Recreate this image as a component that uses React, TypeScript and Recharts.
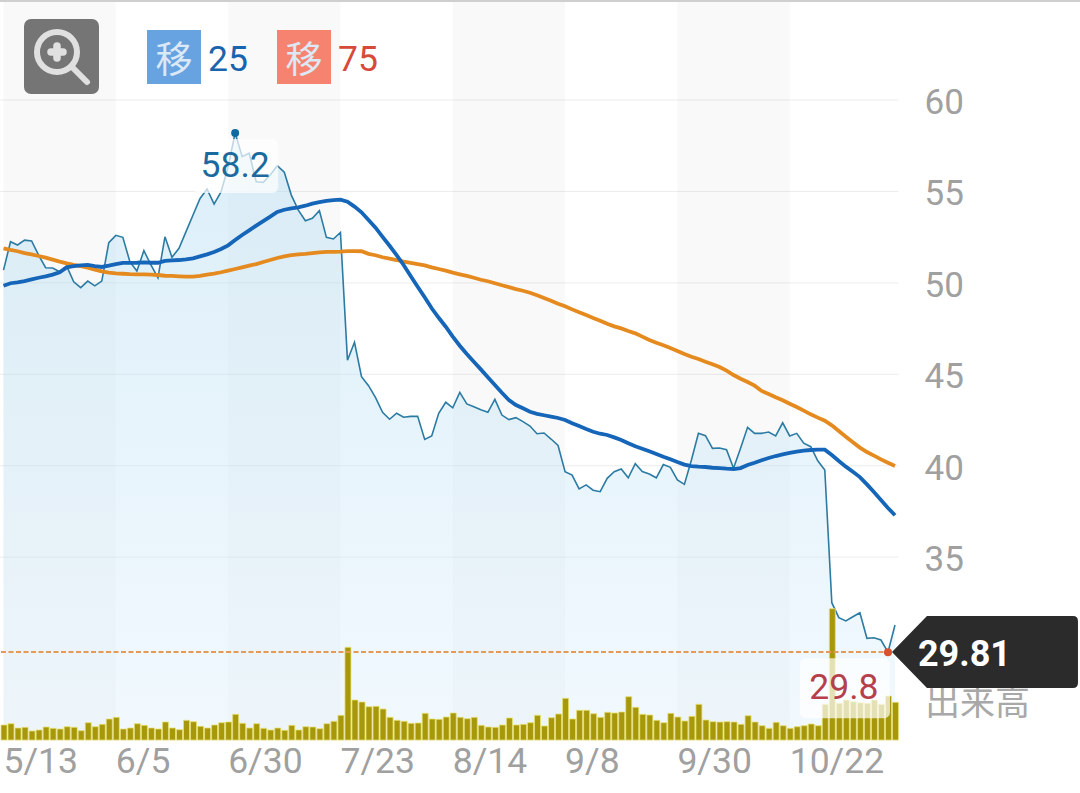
import {
  Area,
  Bar,
  CartesianGrid,
  ComposedChart,
  Line,
  ReferenceArea,
  ReferenceDot,
  ReferenceLine,
  XAxis,
  YAxis,
} from 'recharts';

const FONT = 'Roboto, "Noto Sans CJK JP", sans-serif';

// daily close
const close = [
  50.7, 52.25, 52.07, 52.34, 52.29, 51.52, 50.83, 50.81, 50.61, 50.92, 50.06, 49.74, 50.1, 49.84, 50.1, 52.2,
  52.6, 52.49, 51.16, 50.65, 51.76, 50.98, 50.28, 52.52, 51.4, 51.89, 52.8, 53.71, 54.62, 55.13, 54.31, 54.99,
  56.35, 58.2, 56.9, 57.09, 55.53, 55.5, 55.9, 56.41, 56.05, 54.8, 53.98, 53.4, 53.53, 53.95, 52.49, 52.4,
  52.76, 45.77, 46.75, 44.87, 44.38, 43.72, 42.92, 42.54, 42.87, 42.65, 42.7, 42.7, 41.44, 41.63, 42.87, 43.47,
  43.17, 44.01, 43.38, 43.23, 43.06, 42.92, 43.63, 42.77, 42.52, 42.63, 42.41, 42.17, 41.75, 41.79, 41.46, 41.11,
  39.67, 39.49, 38.73, 38.95, 38.66, 38.58, 39.31, 39.67, 39.82, 39.34, 40.11, 39.68, 39.55, 39.34, 40.06, 39.91,
  39.22, 38.98, 40.31, 41.77, 41.64, 40.95, 40.97, 40.88, 39.86, 40.95, 42.1, 41.77, 41.77, 41.84, 41.63, 42.35,
  41.63, 41.77, 41.23, 41.04, 40.27, 39.77, 32.51, 31.69, 31.51, 31.74, 31.96, 30.56, 30.59, 30.47, 29.8, 31.29,
];

const ma25 = [
  49.84, 49.98, 50.03, 50.1, 50.19, 50.28, 50.36, 50.45, 50.58, 50.85, 50.92, 50.96, 50.98, 50.92, 50.87, 50.94,
  51.03, 51.09, 51.09, 51.1, 51.12, 51.1, 51.1, 51.2, 51.23, 51.25, 51.29, 51.34, 51.45, 51.56, 51.69, 51.85,
  52.05, 52.34, 52.62, 52.87, 53.13, 53.38, 53.62, 53.88, 54.0, 54.08, 54.13, 54.22, 54.33, 54.41, 54.48, 54.53,
  54.55, 54.44, 54.17, 53.86, 53.44, 53.02, 52.52, 52.03, 51.52, 50.98, 50.38, 49.79, 49.21, 48.61, 48.09, 47.6,
  47.06, 46.56, 46.11, 45.69, 45.27, 44.84, 44.41, 43.99, 43.59, 43.32, 43.14, 42.95, 42.84, 42.76, 42.68, 42.61,
  42.5, 42.32, 42.17, 42.01, 41.86, 41.75, 41.68, 41.55, 41.41, 41.23, 41.06, 40.93, 40.79, 40.64, 40.49, 40.35,
  40.2, 40.06, 39.98, 39.95, 39.93, 39.89, 39.87, 39.84, 39.82, 39.87, 40.04, 40.16, 40.3, 40.42, 40.53, 40.62,
  40.7, 40.77, 40.82, 40.86, 40.88, 40.88, 40.59, 40.26, 39.95, 39.67, 39.38, 38.98, 38.56, 38.13, 37.69, 37.29,
];

const ma75 = [
  51.89, 51.8, 51.73, 51.63, 51.56, 51.47, 51.38, 51.27, 51.16, 51.07, 50.99, 50.92, 50.83, 50.72, 50.63, 50.56,
  50.52, 50.5, 50.48, 50.47, 50.47, 50.45, 50.43, 50.39, 50.38, 50.36, 50.34, 50.34, 50.38, 50.45, 50.5, 50.58,
  50.67, 50.76, 50.85, 50.94, 51.03, 51.14, 51.25, 51.36, 51.45, 51.52, 51.56, 51.59, 51.63, 51.67, 51.69, 51.7,
  51.71, 51.74, 51.74, 51.73, 51.59, 51.51, 51.4, 51.32, 51.25, 51.16, 51.09, 51.03, 50.96, 50.85, 50.76, 50.67,
  50.56, 50.47, 50.38, 50.28, 50.17, 50.09, 49.98, 49.87, 49.77, 49.66, 49.57, 49.46, 49.32, 49.17, 49.02, 48.86,
  48.72, 48.55, 48.39, 48.24, 48.08, 47.93, 47.77, 47.62, 47.51, 47.37, 47.24, 47.06, 46.88, 46.73, 46.59, 46.44,
  46.27, 46.11, 45.96, 45.84, 45.69, 45.55, 45.4, 45.2, 44.96, 44.76, 44.58, 44.38, 44.09, 43.92, 43.74, 43.58,
  43.39, 43.21, 43.01, 42.81, 42.63, 42.46, 42.21, 41.9, 41.59, 41.28, 40.99, 40.75, 40.55, 40.35, 40.16, 39.98,
];

// volume, relative units
const volume = [
  15, 16.3, 12, 12.7, 9, 10, 13, 11.7, 11, 13.3, 12.7, 9.3, 17.3, 13.3, 15.7, 21,
  22.7, 11, 12, 16.3, 14.7, 12, 11, 18, 12, 10.3, 19.7, 18.3, 13.7, 12, 15, 17.3,
  18, 25.7, 16.7, 12, 16.3, 11.7, 10, 12, 9.7, 14.7, 10, 13.3, 13, 11.3, 16.3, 18.7,
  24.7, 92.7, 40, 38, 33.3, 33.7, 31, 22.7, 19.7, 18.7, 16.7, 17, 26.7, 21, 20.7, 23,
  27, 22.7, 21.3, 22.7, 14.7, 13, 12.7, 15, 22, 15, 15.7, 17.3, 24.7, 14, 22.3, 26,
  41.7, 21, 29.7, 29.7, 26.3, 22.7, 27.7, 27, 28, 43.3, 32.7, 25.7, 25, 19.7, 17.3, 26.7,
  23, 19, 23.7, 35.7, 20, 18.3, 18, 18.3, 18, 15.7, 24.3, 18, 14.3, 11.7, 17.7, 14.3,
  11.7, 13.3, 14.3, 16, 14.3, 35.7, 131.3, 36.7, 40, 38.3, 37.3, 36.7, 40, 35.7, 44, 37.7,
];

const dateLabels = ['5/13', '6/5', '6/30', '7/23', '8/14', '9/8', '9/30', '10/22'];
const dateTicks = [0, 16, 32, 48, 64, 80, 96, 112];
const priceTicks = [35, 40, 45, 50, 55, 60];
const shadedBands = [[0, 15], [32, 47], [64, 79], [96, 111]];

const lastPrice = 29.81;
const highIdx = 33;
const lowIdx = 126;

const data = close.map((c, i) => ({ i, close: c, ma25: ma25[i], ma75: ma75[i], volume: volume[i] }));

function DateTick({ x, y, payload }: any) {
  return (
    <text x={x} y={y + 25} textAnchor="start" fontSize={35.5} fontFamily={FONT} fill="#a0a0a0">
      {dateLabels[dateTicks.indexOf(payload.value)]}
    </text>
  );
}

// the bands run from one point's centre to the next band's first centre
function Band({ x, y, width, height }: any) {
  return <rect x={x + 3.5} y={y + 2} width={width} height={height - 2} fill="#000" fillOpacity={0.024} />;
}

function HighMark({ cx, cy }: any) {
  return (
    <g>
      <circle cx={cx} cy={cy} r={4} fill="#0f6a9f" />
      <rect x={cx - 42} y={cy + 6} width={85} height={54} rx={6} fill="#fff" fillOpacity={0.7} />
      <text x={cx} y={cy + 44} textAnchor="middle" fontSize={35.5} fontFamily={FONT} fill="#1a6a9e">
        58.2
      </text>
    </g>
  );
}

function LowMark({ cx, cy }: any) {
  return (
    <g>
      <rect x={cx - 88} y={cy + 6} width={90} height={60} rx={6} fill="#fff" fillOpacity={0.7} />
      <text x={cx - 44} y={cy + 47} textAnchor="middle" fontSize={35.5} fontFamily={FONT} fill="#b5404a">
        29.8
      </text>
      <circle cx={cx} cy={cy} r={4} fill="#d9502e" />
    </g>
  );
}

function PriceTag({ cx, cy }: any) {
  const x = cx + 4;
  return (
    <g>
      <path
        d={`M${x} ${cy} L${x + 35} ${cy - 36} H${x + 181} q5 0 5 5 V${cy + 31} q0 5 -5 5 H${x + 35} Z`}
        fill="#2b2b2b"
      />
      <text x={x + 26} y={cy + 14} fontSize={36} fontWeight={700} fontFamily={FONT} fill="#fff">
        {lastPrice}
      </text>
    </g>
  );
}

function MaKey({ left, box, color, label }: { left: number; box: string; color: string; label: string }) {
  return (
    <>
      <div
        style={{
          position: 'absolute', left, top: 30, width: 54, height: 54, background: box, color: '#dce8f5',
          fontSize: 37, lineHeight: '54px', textAlign: 'center', fontFamily: '"Noto Sans CJK JP"',
        }}
      >
        移
      </div>
      <div
        style={{
          position: 'absolute', left: left + 61, top: 39, color, fontSize: 35.5, lineHeight: '40px', fontFamily: FONT,
        }}
      >
        {label}
      </div>
    </>
  );
}

function ZoomIcon() {
  return (
    <svg width={75} height={75} style={{ position: 'absolute', left: 24, top: 19 }}>
      <rect width={75} height={75} rx={7} fill="#757575" />
      <circle cx={33} cy={33} r={20} fill="none" stroke="#e0e0e0" strokeWidth={6} />
      <path d="M33 27V39M27 33H39" stroke="#e0e0e0" strokeWidth={7.5} strokeLinecap="round" />
      <path d="M48 48L63 63" stroke="#e0e0e0" strokeWidth={6} strokeLinecap="round" />
    </svg>
  );
}

export default function App() {
  return (
    <div style={{ position: 'fixed', left: 0, top: 0, width: 1080, height: 793, background: '#fff', overflow: 'hidden' }}>
      <div
        style={{
          position: 'absolute', left: 925, top: 678, color: '#a8a8a8', fontSize: 35, lineHeight: '44px',
          fontFamily: '"Noto Sans CJK JP"',
        }}
      >
        出来高
      </div>
      <div style={{ position: 'absolute', left: 0, top: 0 }}>
        <ComposedChart
          width={1080}
          height={793}
          data={data}
          margin={{ top: 0, right: 0, bottom: 0, left: 0 }}
          barCategoryGap={0}
        >
          <defs>
            <linearGradient id="closeFill" x1="0" y1="0" x2="0" y2="1">
              <stop offset="0%" stopColor="#b4dcf2" stopOpacity={0.8} />
              <stop offset="100%" stopColor="#d8eefb" stopOpacity={0.6} />
            </linearGradient>
          </defs>
          <XAxis
            dataKey="i"
            type="category"
            ticks={dateTicks}
            interval={0}
            tick={<DateTick />}
            tickLine={false}
            axisLine={false}
            height={53}
          />
          <YAxis
            orientation="right"
            domain={[25, 65.47]}
            ticks={priceTicks}
            width={181.5}
            tickLine={false}
            axisLine={false}
            tickSize={0}
            tickMargin={26}
            dy={1.5}
            tick={{ fill: '#a0a0a0', fontSize: 35, fontFamily: FONT }}
          />
          <YAxis yAxisId="volume" hide domain={[0, 740]} />
          {shadedBands.map(([a, b]) => (
            <ReferenceArea key={a} x1={a} x2={b} shape={<Band />} ifOverflow="visible" />
          ))}
          <CartesianGrid vertical={false} stroke="#ececec" strokeWidth={1} />
          <Area
            type="linear"
            dataKey="close"
            stroke="#2b7ba3"
            strokeWidth={1.6}
            fill="url(#closeFill)"
            dot={false}
            activeDot={false}
            isAnimationActive={false}
          />
          <Bar
            dataKey="volume"
            yAxisId="volume"
            barSize={6}
            fill="#a6970b"
            stroke="#e8e070"
            strokeWidth={0.8}
            isAnimationActive={false}
          />
          <ReferenceLine y={lastPrice} stroke="#e59a58" strokeWidth={2} strokeDasharray="5 2.5" />
          <Line type="linear" dataKey="ma75" stroke="#e58a1f" strokeWidth={3.8} dot={false} activeDot={false} isAnimationActive={false} />
          <Line type="linear" dataKey="ma25" stroke="#1565b8" strokeWidth={3.8} dot={false} activeDot={false} isAnimationActive={false} />
          <ReferenceDot x={highIdx} y={close[highIdx]} r={4} shape={<HighMark />} ifOverflow="visible" />
          <ReferenceDot x={lowIdx} y={close[lowIdx]} r={4} shape={<LowMark />} ifOverflow="visible" />
          <ReferenceDot x={lowIdx} y={lastPrice} r={4} shape={<PriceTag />} ifOverflow="visible" />
        </ComposedChart>
      </div>
      <div style={{ position: 'absolute', left: 0, top: 0, width: 1080, height: 2, background: '#cfcfcf' }} />
      <ZoomIcon />
      <MaKey left={147} box="#66a3e0" color="#1a63ad" label="25" />
      <MaKey left={277} box="#f5836f" color="#d64a3a" label="75" />
    </div>
  );
}
